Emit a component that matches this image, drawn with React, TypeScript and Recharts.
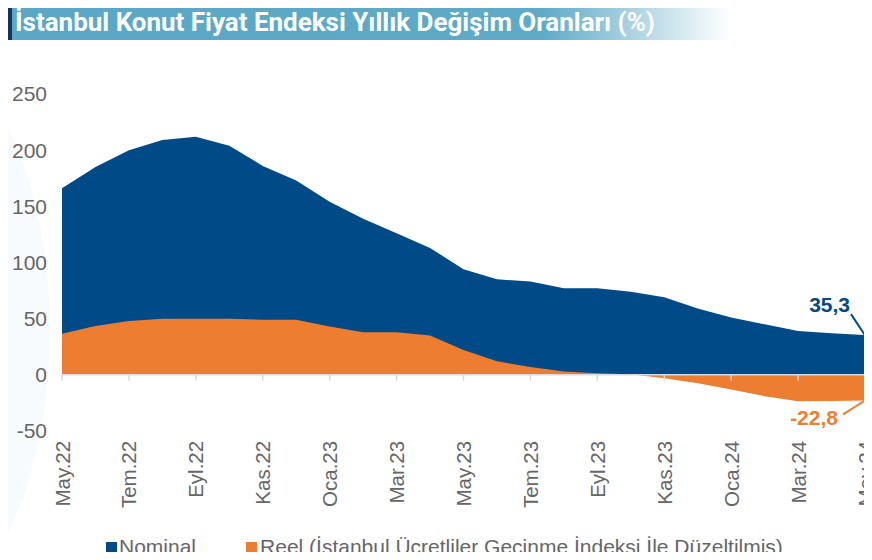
import React from "react";
import { AreaChart, Area, XAxis, YAxis, ReferenceLine, LabelList } from "recharts";

const months = [
  "May.22", "Haz.22", "Tem.22", "Ağu.22", "Eyl.22", "Eki.22", "Kas.22", "Ara.22",
  "Oca.23", "Şub.23", "Mar.23", "Nis.23", "May.23", "Haz.23", "Tem.23", "Ağu.23",
  "Eyl.23", "Eki.23", "Kas.23", "Ara.23", "Oca.24", "Şub.24", "Mar.24", "Nis.24", "May.24",
];
const nominal = [166, 185, 200, 209, 212, 204, 186, 173, 154, 139, 126, 113, 94, 85, 83, 77, 77, 74, 69, 59, 51, 45, 39, 37, 35.3];
const reel = [36.5, 43.5, 48, 50, 50, 50, 49, 49, 43, 38, 38, 35, 22, 12, 7, 3, 1.5, 0.5, -3, -7.5, -13, -19, -23.5, -23.3, -22.8];
const yTicks = [-50, 0, 50, 100, 150, 200, 250];
const seriesNames = ["Nominal", "Reel (İstanbul Ücretliler Geçinme İndeksi İle Düzeltilmiş)"];
const title = "İstanbul Konut Fiyat Endeksi Yıllık Değişim Oranları (%)";

const data = months.map((m, i) => ({ month: m, nominal: nominal[i], reel: reel[i] }));

const W = 872;
const H = 560;
const PLOT_TOP = 94;
const PLOT_BOTTOM = 431;
const Y_MIN = -50;
const Y_MAX = 250;
const ZERO_Y = PLOT_TOP + ((Y_MAX - 0) / (Y_MAX - Y_MIN)) * (PLOT_BOTTOM - PLOT_TOP);

const BLUE = "#004a87";
const ORANGE = "#ed7d31";
const GREY = "#666666";
const FONT = "'Liberation Sans', Arial, sans-serif";

const fmt = (v: number) => String(v).replace(".", ",");

const XTick = (props: any) => {
  const { x, payload } = props;
  return (
    <g>
      <line x1={x} x2={x} y1={ZERO_Y} y2={ZERO_Y + 6} stroke="#d9d9d9" strokeWidth={1.5} />
      <text
        transform={`translate(${x + 7.5},${ZERO_Y + 66}) rotate(-90)`}
        textAnchor="end"
        fontSize={20.5}
        fill={GREY}
        fontFamily={FONT}
      >
        {payload.value}
      </text>
    </g>
  );
};

const NominalLabel = (props: any) => {
  const { x, y, value, index } = props;
  if (index !== data.length - 1) return null;
  return (
    <g>
      <line x1={x - 14} y1={y - 21} x2={x} y2={y} stroke={BLUE} strokeWidth={2} />
      <text x={x - 15} y={y - 23} textAnchor="end" fontSize={21} fontWeight="bold" fill={BLUE} fontFamily={FONT}>
        {fmt(value)}
      </text>
    </g>
  );
};

const ReelLabel = (props: any) => {
  const { x, y, value, index } = props;
  if (index !== data.length - 1) return null;
  return (
    <g>
      <line x1={x - 22} y1={y + 14} x2={x} y2={y} stroke={ORANGE} strokeWidth={2} />
      <text x={x - 27} y={y + 25} textAnchor="end" fontSize={21} fontWeight="bold" fill={ORANGE} fontFamily={FONT}>
        {fmt(value)}
      </text>
    </g>
  );
};

export default function App() {
  return (
    <div style={{ position: "relative", width: W, height: H, margin: -8, overflow: "hidden", background: "#fff" }}>
      <div
        style={{
          position: "absolute",
          left: -270,
          top: 30,
          width: 320,
          height: 600,
          borderRadius: "50%",
          background: "#f7fbfd",
        }}
      />
      <svg style={{ position: "absolute", left: 0, top: 0 }} width={W} height={44}>
        <defs>
          <linearGradient id="tg" x1="0" x2="1" y1="0" y2="0">
            <stop offset="0" stopColor="#5aa8c6" />
            <stop offset="0.74" stopColor="#5eaac7" />
            <stop offset="1" stopColor="#ffffff" />
          </linearGradient>
        </defs>
        <rect x={8} y={0} width={722} height={40} fill="url(#tg)" />
        <rect x={8} y={0} width={4} height={40} fill="#17345f" />
        <text
          x={15}
          y={31}
          fontSize={26}
          fontWeight="bold"
          fill="#ffffff"
          fontFamily="Roboto, 'Noto Sans', sans-serif"
          textLength={640}
          lengthAdjust="spacingAndGlyphs"
        >
          {title}
        </text>
      </svg>
      <div style={{ position: "absolute", left: 0, top: 0 }}>
        <AreaChart width={W} height={H} data={data} margin={{ top: PLOT_TOP, right: 7, bottom: 59, left: 10 }}>
          <YAxis
            width={52}
            domain={[Y_MIN, Y_MAX]}
            ticks={yTicks}
            axisLine={false}
            tickLine={false}
            tickMargin={9}
            tick={{ fontSize: 21, fill: GREY, fontFamily: FONT }}
          />
          <Area
            type="linear"
            dataKey="nominal"
            name={seriesNames[0]}
            fill={BLUE}
            fillOpacity={1}
            stroke="none"
            isAnimationActive={false}
          >
            <LabelList dataKey="nominal" content={NominalLabel} />
          </Area>
          <Area
            type="linear"
            dataKey="reel"
            name={seriesNames[1]}
            fill={ORANGE}
            fillOpacity={1}
            stroke="none"
            isAnimationActive={false}
          >
            <LabelList dataKey="reel" content={ReelLabel} />
          </Area>
          <ReferenceLine y={0} stroke="#d9d9d9" strokeWidth={1.5} />
          <XAxis
            dataKey="month"
            height={70}
            interval={1}
            axisLine={false}
            tickLine={false}
            tick={<XTick />}
          />
        </AreaChart>
      </div>
      <div
        style={{
          position: "absolute",
          top: 535,
          left: 106,
          display: "flex",
          alignItems: "center",
          fontFamily: FONT,
          fontSize: 21,
          lineHeight: "24px",
          color: GREY,
          whiteSpace: "nowrap",
        }}
      >
        <span style={{ display: "inline-block", width: 11, height: 11, background: BLUE, marginRight: 2 }} />
        <span>{seriesNames[0]}</span>
        <span style={{ display: "inline-block", width: 11, height: 11, background: ORANGE, marginLeft: 50, marginRight: 3 }} />
        <span>{seriesNames[1]}</span>
      </div>
    </div>
  );
}
